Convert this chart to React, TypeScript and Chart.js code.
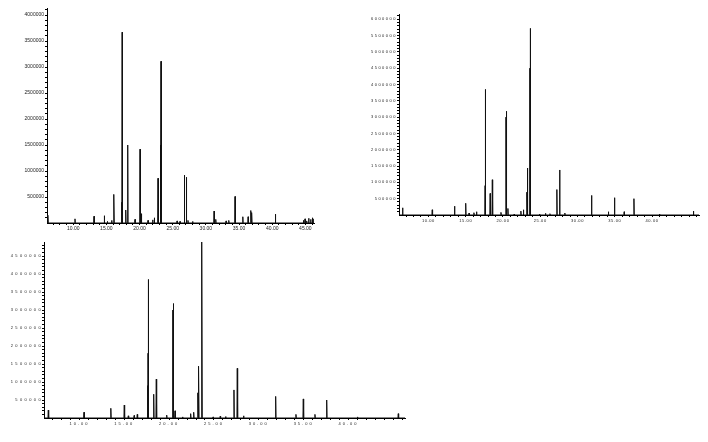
import React, { useEffect, useRef } from 'react';
import { Chart, registerables } from 'chart.js';

Chart.register(...registerables);

// ---- Data: sample A (top-left chromatogram) ----
const A_TIMES = [
  6.2, 10.27, 13.14, 14.69, 15.15, 15.8, 16.08, 16.15, 17.31, 17.38, 17.92, 18.22, 19.32,
  20.08, 20.28, 21.28, 21.98, 22.23, 22.79, 23.14, 23.24, 25.66, 26.1, 26.76, 27.06, 27.3,
  28.0, 31.24, 31.49, 33.05, 33.45, 34.4, 35.57, 36.37, 36.77, 36.92, 40.48,
  44.7, 44.95, 45.2, 45.5, 45.8, 46.05, 46.25,
];
const A_HEIGHTS = [
  150000, 80000, 130000, 140000, 30000, 50000, 500000, 550000, 400000, 3670000, 250000, 1500000, 70000,
  1420000, 180000, 50000, 60000, 100000, 860000, 1500000, 3110000, 40000, 30000, 920000, 880000, 50000,
  30000, 230000, 70000, 40000, 50000, 510000, 120000, 120000, 240000, 200000, 170000,
  50000, 80000, 40000, 90000, 70000, 100000, 80000,
];

// ---- Data: sample B (top-right and bottom chromatograms) ----
const B_TIMES = [
  6.53, 10.51, 13.5, 15.0, 15.45, 16.1, 16.45, 17.6, 17.65, 17.68, 18.28, 18.57, 19.73,
  20.4, 20.47, 20.66, 21.5, 22.4, 22.74, 23.2, 23.3, 23.6, 23.66, 24.9, 25.7, 26.3,
  27.23, 27.6, 28.3, 31.88, 34.14, 34.96, 36.26, 37.57, 41.0, 45.55,
];
const B_HEIGHTS = [
  220000, 160000, 270000, 360000, 60000, 70000, 100000, 900000, 1800000, 3850000, 660000, 1080000, 80000,
  3000000, 3180000, 200000, 30000, 120000, 160000, 700000, 1440000, 4500000, 5720000, 30000, 50000, 40000,
  780000, 1380000, 60000, 600000, 100000, 530000, 100000, 500000, 30000, 120000,
];

// ---- Axis labels ----
const X_MIN = 6.05;
const X_MAX = 46.3;
const X_LABELS_A = [10, 15, 20, 25, 30, 35, 40, 45];
const X_LABELS_B = [10, 15, 20, 25, 30, 35, 40];
const Y_LABELS_A = [500000, 1000000, 1500000, 2000000, 2500000, 3000000, 3500000, 4000000];
const Y_LABELS_B = [500000, 1000000, 1500000, 2000000, 2500000, 3000000, 3500000, 4000000, 4500000, 5000000, 5500000, 6000000];
const Y_LABELS_C = [500000, 1000000, 1500000, 2000000, 2500000, 3000000, 3500000, 4000000, 4500000];

type Panel = {
  left: number; top: number; width: number; height: number;
  yW: number; padTop: number; padRight: number; xH: number; yMax: number;
  times: number[]; heights: number[]; xLabels: number[]; yLabels: number[];
  font: number; lsX: number; lsY: number; yPad: number; w: number;
};

const PANELS: Panel[] = [
  { left: 0, top: 0, width: 330, height: 240, yW: 47, padTop: 8, padRight: 16, xH: 17, yMax: 4135000,
    times: A_TIMES, heights: A_HEIGHTS, xLabels: X_LABELS_A, yLabels: Y_LABELS_A, font: 5, lsX: 0, lsY: 0, yPad: 1, w: 0.045 },
  { left: 370, top: 0, width: 338, height: 240, yW: 29, padTop: 14, padRight: 9, xH: 25, yMax: 6160000,
    times: B_TIMES, heights: B_HEIGHTS, xLabels: X_LABELS_B, yLabels: Y_LABELS_B, font: 4, lsX: 0.6, lsY: 1.5, yPad: 0, w: 0.045 },
  { left: 0, top: 235, width: 420, height: 207, yW: 44, padTop: 7, padRight: 15, xH: 24, yMax: 4890000,
    times: B_TIMES, heights: B_HEIGHTS, xLabels: X_LABELS_B, yLabels: Y_LABELS_C, font: 4, lsX: 2, lsY: 2.4, yPad: -1, w: 0.04 },
];

function spikes(times: number[], heights: number[], w: number) {
  const pts: { x: number; y: number }[] = [{ x: X_MIN, y: 0 }];
  times.forEach((t, i) => {
    pts.push({ x: t - w, y: 0 }, { x: t, y: heights[i] }, { x: t + w, y: 0 });
  });
  pts.push({ x: X_MAX, y: 0 });
  pts.sort((a, b) => a.x - b.x);
  return pts;
}

const letterSpacingPlugin = {
  id: 'letterSpacing',
  afterUpdate(chart: any, _args: any, opts: any) {
    const wrap = (scale: any, sp: number) => {
      if (!scale || scale._lsWrapped) return;
      const orig = scale.drawLabels.bind(scale);
      scale.drawLabels = (area: any) => {
        const ctx = scale.ctx;
        const prev = ctx.letterSpacing;
        ctx.letterSpacing = sp + 'px';
        orig(area);
        ctx.letterSpacing = prev || '0px';
      };
      scale._lsWrapped = true;
    };
    wrap(chart.scales.x, opts.x || 0);
    wrap(chart.scales.y, opts.y || 0);
  },
};

function ChromPanel({ p }: { p: Panel }) {
  const ref = useRef<HTMLCanvasElement | null>(null);
  useEffect(() => {
    if (!ref.current) return;
    const xTicks: number[] = [];
    for (let v = 7; v <= 46; v++) xTicks.push(v);
    const yTicks: number[] = [];
    for (let v = 100000; v <= p.yMax; v += 100000) yTicks.push(v);
    const font = { family: "'Liberation Sans', Arial, sans-serif", size: p.font };
    const chart = new Chart(ref.current, {
      type: 'line',
      data: {
        datasets: [{
          data: spikes(p.times, p.heights, p.w),
          borderColor: '#111',
          borderWidth: 1,
          pointRadius: 0,
          tension: 0,
          fill: false,
        }],
      },
      plugins: [letterSpacingPlugin],
      options: {
        animation: false,
        responsive: false,
        events: [],
        layout: { padding: { left: 0, top: p.padTop, right: p.padRight, bottom: 0 } },
        plugins: {
          legend: { display: false },
          tooltip: { enabled: false },
          letterSpacing: { x: p.lsX, y: p.lsY },
        } as any,
        scales: {
          x: {
            type: 'linear',
            min: X_MIN,
            max: X_MAX,
            afterBuildTicks: (s: any) => { s.ticks = xTicks.map((v) => ({ value: v })); },
            afterFit: (s: any) => { s.height = p.xH; },
            ticks: {
              autoSkip: false, maxRotation: 0, minRotation: 0, padding: 1, color: '#222', font,
              callback: (v: any) => (p.xLabels.includes(Number(v)) ? Number(v).toFixed(2) : ''),
            },
            grid: { drawOnChartArea: false, tickLength: 2, color: '#000', lineWidth: 1 },
            border: { display: true, color: '#000', width: 1 },
          },
          y: {
            type: 'linear',
            min: 0,
            max: p.yMax,
            afterBuildTicks: (s: any) => { s.ticks = yTicks.map((v) => ({ value: v })); },
            afterFit: (s: any) => { s.width = p.yW; },
            ticks: {
              autoSkip: false, padding: p.yPad, color: '#222', font,
              callback: (v: any) => (p.yLabels.includes(Number(v)) ? String(v) : ''),
            },
            grid: { drawOnChartArea: false, tickLength: 2, color: '#000', lineWidth: 1 },
            border: { display: true, color: '#000', width: 1 },
          },
        },
      } as any,
    });
    return () => chart.destroy();
  }, [p]);
  return (
    <canvas
      ref={ref}
      width={p.width}
      height={p.height}
      style={{ position: 'absolute', left: p.left, top: p.top, width: p.width, height: p.height }}
    />
  );
}

export default function App() {
  return (
    <div style={{ position: 'absolute', left: 0, top: 0, width: 708, height: 442, background: '#fff' }}>
      {PANELS.map((p, i) => (
        <ChromPanel key={i} p={p} />
      ))}
    </div>
  );
}
